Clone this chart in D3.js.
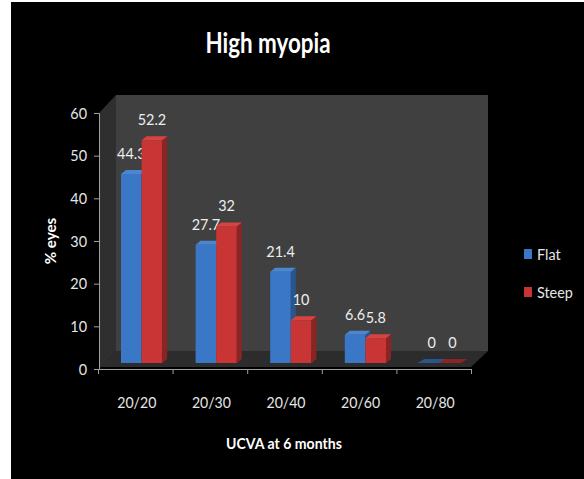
<!DOCTYPE html>
<html><head><meta charset="utf-8">
<script src="https://cdn.jsdelivr.net/npm/d3@7"></script>
<style>html,body{margin:0;padding:0;background:#fff;}svg{display:block;}</style>
</head><body>
<svg id="c" width="584" height="479"></svg>
<script>
const categories = ["20/20","20/30","20/40","20/60","20/80"];
const seriesNames = ["Flat","Steep"];
const flatValues = [44.3, 27.7, 21.4, 6.6, 0];
const steepValues = [52.2, 32, 10, 5.8, 0];
const yTicks = [0,10,20,30,40,50,60];
const titleText = "High myopia";
const yTitle = "% eyes";
const xTitle = "UCVA at 6 months";

const font = "Lato, 'Open Sans', sans-serif";
const svg = d3.select("#c");
svg.append("rect").attr("x",11).attr("y",2).attr("width",573).attr("height",477).attr("fill","#000");

const x = d3.scaleBand().domain(categories).range([98,471]).padding(0);
const y = d3.scaleLinear().domain([0,60]).range([369,113]);
const D = {dx:17, dy:-18};   // box depth
const B = {dx:7, dy:-6};     // bar plane offset
const E = {dx:5, dy:-4};     // bar extrusion
const barW = 20.6;

// narrow text helper (mimics a condensed face)
function txt(sel, px, py, s, opts) {
  const t = sel.append("text")
    .attr("transform", `translate(${px},${py}) ${opts.rot ? "rotate(-90) " : ""}scale(${opts.sx},1)`)
    .attr("text-anchor", opts.anchor || "middle")
    .attr("dy", opts.dy || null)
    .attr("fill", opts.fill || "#e6e6e6")
    .style("font-family", font).style("font-size", opts.size + "px")
    .style("font-weight", opts.bold ? "bold" : "normal")
    .text(s);
  return t;
}

// walls
const x0 = 99, x1 = 471, yTop = y(60), yBot = y(0);
svg.append("polygon").attr("points",[[x0,yBot],[x0,yTop],[x0+D.dx,yTop+D.dy],[x0+D.dx,yBot+D.dy]].join(" ")).attr("fill","#2f2f2f");
svg.append("rect").attr("x",x0+D.dx).attr("y",yTop+D.dy).attr("width",x1-x0).attr("height",yBot-yTop).attr("fill","#404040");
svg.append("polygon").attr("points",[[x0,yBot-2],[x1,yBot-2],[x1+D.dx,yBot+D.dy],[x0+D.dx,yBot+D.dy]].join(" ")).attr("fill","#2c2c2c");

// axes
const yAxis = d3.axisLeft(y).tickValues(yTicks).tickSize(5).tickFormat("");
const gy = svg.append("g").attr("transform",`translate(${x0},0)`).call(yAxis);
gy.select(".domain").attr("stroke","#a0a0a0");
gy.selectAll(".tick line").attr("stroke","#a0a0a0");
yTicks.forEach(v => txt(svg, 87, y(v), d3.format("d")(v), {sx:0.9, size:16, anchor:"end", dy:"0.35em"}));

const xAxis = d3.axisBottom(d3.scaleLinear().domain([0,categories.length]).range([98,471]))
  .tickValues(d3.range(categories.length+1)).tickSize(5).tickFormat("");
const gx = svg.append("g").attr("transform",`translate(0,${yBot})`).call(xAxis);
gx.select(".domain").attr("stroke","#a0a0a0");
gx.selectAll(".tick line").attr("stroke","#a0a0a0");
categories.forEach(c => txt(svg, x(c)+x.bandwidth()/2+1.5, 402, c, {sx:0.88, size:16, dy:"0.35em"}));

// bars
const series = [
  {name:"Flat", values:flatValues, front:"#3a77c6", side:"#28568f", top:"#4a86d2"},
  {name:"Steep", values:steepValues, front:"#c93434", side:"#8c2424", top:"#d84242"}
];
const yb = v => y(v) + B.dy;
series.forEach((s,j)=>{
  categories.forEach((c,i)=>{
    const v = s.values[i];
    const bx0 = x(c) + 23 + j*barW, bx1 = bx0 + barW;
    const t = yb(v), b = yb(0);
    const g = svg.append("g");
    if (v > 0) {
      g.append("rect").attr("x",bx0).attr("y",t).attr("width",barW).attr("height",b-t).attr("fill",s.front);
      g.append("polygon").attr("points",[[bx1,t],[bx1+E.dx,t+E.dy],[bx1+E.dx,b+E.dy],[bx1,b]].join(" ")).attr("fill",s.side);
      g.append("polygon").attr("points",[[bx0,t],[bx0+E.dx,t+E.dy],[bx1+E.dx,t+E.dy],[bx1,t]].join(" ")).attr("fill",s.top);
    } else {
      g.append("polygon").attr("points",[[bx0-2,t],[bx0+E.dx,t+E.dy],[bx1+E.dx+2,t+E.dy],[bx1,t]].join(" ")).attr("fill",s.side);
    }
    txt(svg, bx0+barW/2+(v>0?0:2), t-15, String(v), {sx:0.9, size:16, fill:"#eeeeee"});
  });
});

// titles
txt(svg, 268, 53, titleText, {sx:0.8, size:28, bold:true, fill:"#fff"});
txt(svg, 50, 241, yTitle, {sx:0.95, size:16, bold:true, fill:"#fff", rot:true, dy:"0.35em"});
txt(svg, 284, 443, xTitle, {sx:0.88, size:16, bold:true, fill:"#fff", dy:"0.35em"});

// legend
series.forEach((s,i) => {
  const g = svg.append("g").attr("transform",`translate(524,${249+i*38})`);
  g.append("rect").attr("width",8).attr("height",10).attr("fill",s.front);
  txt(g, 13, 5, s.name, {sx:0.9, size:16, anchor:"start", dy:"0.35em"});
});
</script>
</body></html>
